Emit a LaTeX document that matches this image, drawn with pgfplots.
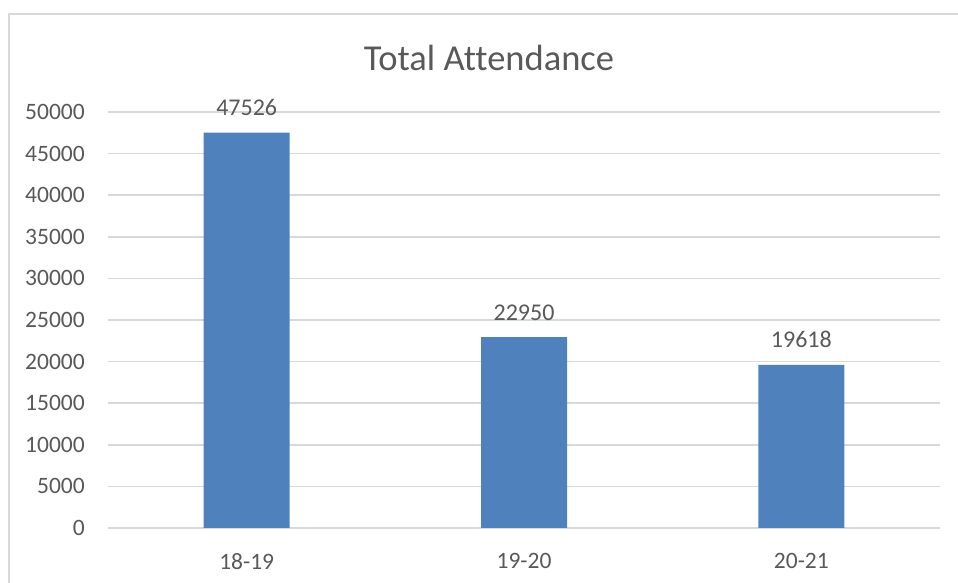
\documentclass[border=0pt]{standalone}
\usepackage{fontspec}
\setmainfont{Carlito}[Ligatures=NoCommon]
\usepackage{pgfplots}
\pgfplotsset{compat=1.18}
\definecolor{barblue}{HTML}{4F81BD}
\definecolor{txtgray}{HTML}{595959}
\definecolor{linegray}{HTML}{D9D9D9}
\begin{document}
\begin{tikzpicture}
\path[use as bounding box] (0,0) rectangle (958pt,583pt);
% chart frame (only left and top edges visible)
\draw[linegray, line width=2pt] (9pt,0) -- (9pt,569pt) -- (958pt,569pt);
\node[anchor=base, text=txtgray, font=\fontsize{36.5}{40}\selectfont, inner sep=0]
  at (489pt,512pt) {Total Attendance};
\begin{axis}[
  at={(108pt,55pt)}, anchor=south west,
  scale only axis, width=832pt, height=416pt,
  xmin=-0.5, xmax=2.5, ymin=0, ymax=50000,
  xtick={0,1,2}, xticklabels={18-19,19-20,20-21},
  ytick={0,5000,...,50000},
  scaled y ticks=false,
  /pgf/number format/1000 sep={},
  /pgf/number format/assume math mode=true,
  ymajorgrids,
  grid style={linegray, line width=1.6pt},
  axis line style={draw=none},
  major tick length=0pt,
  tick style={draw=none},
  ticklabel style={text=txtgray, font=\fontsize{23.5}{26}\selectfont, inner sep=0pt},
  yticklabel style={anchor=east, xshift=-23pt},
  xticklabel style={anchor=north, yshift=-25pt},
  ybar, bar width=86pt,
  nodes near coords,
  every node near coord/.append style={text=txtgray, font=\fontsize{24}{26}\selectfont,
    inner sep=0pt, anchor=south, yshift=16.5pt},
  clip=false,
]
\addplot[fill=barblue, draw=none] coordinates {(0,47526) (1,22950) (2,19618)};
\end{axis}
\end{tikzpicture}
\end{document}
